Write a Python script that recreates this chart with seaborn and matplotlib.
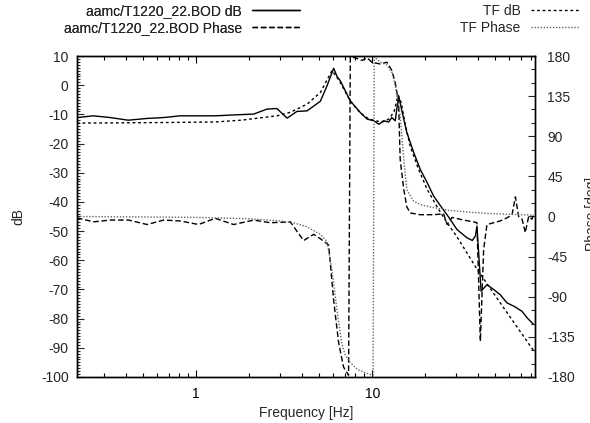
import numpy as np
import pandas as pd
import matplotlib
matplotlib.use("Agg")
import matplotlib.pyplot as plt
import seaborn as sns
from matplotlib.ticker import FixedLocator, MultipleLocator, LogLocator, NullFormatter

# ---------------- data ----------------
bod_db_f = [0.21, 0.26, 0.325, 0.41, 0.525, 0.65, 0.81, 1.03, 1.28, 1.63, 2.12, 2.52, 2.87,
            3.28, 3.73, 4.26, 5.07, 5.53, 6.03, 6.3, 6.58, 7.5, 8.55, 9.33, 10.2, 10.9, 11.6,
            12.4, 12.9, 13.5, 14.1, 14.8, 15.7, 17.2, 18.7, 20.5, 22.3, 24.5, 27.0, 30.3,
            34.5, 37.0, 38.5, 39.3, 41.5, 44.8, 48.9, 53.3, 58.2, 64.0, 70.9, 76.0, 82.5]
bod_db = [-11.1, -10.5, -11.1, -12.0, -11.4, -11.1, -10.5, -10.5, -10.5, -10.2, -9.9, -8.2, -8.0,
          -11.3, -9.0, -8.8, -5.5, -0.2, 5.8, 3.0, 1.5, -5.4, -9.4, -11.6, -12.2, -13.4, -12.2,
          -12.6, -11.1, -12.2, -3.6, -9.4, -16.2, -23.1, -28.8, -33.4, -38.0, -41.5, -45.0, -49.5,
          -52.3, -53.2, -51.7, -48.3, -70.6, -68.4, -70.0, -71.8, -74.6, -75.8, -77.5, -79.8, -82.0]

bod_ph_f = [0.21, 0.261, 0.325, 0.412, 0.525, 0.652, 0.811, 1.03, 1.28, 1.63, 2.12, 2.63, 3.42,
            4.07, 4.64, 5.07, 5.65, 6.03, 6.44, 6.87, 7.33, 7.5, 8.0, 8.73, 9.33, 9.96, 11.1,
            12.1, 12.9, 13.5, 14.1, 14.4, 15.1, 15.7, 16.4, 18.7, 22.3, 25.4, 26.6, 28.4, 33.0,
            37.6, 39.3, 41.1, 42.9, 44.8, 48.9, 53.3, 58.2, 62.2, 65.0, 67.8, 70.9, 74.0, 77.3,
            80.8, 82.5]
bod_ph = [-1.5, -6, -4, -4, -9, -4, -5, -9, -2, -9, -4, -7, -6,
          -27, -20, -25, -32, -94, -142, -169, -178, 179, 178, 175, 178, 173, 171,
          173, 164, 150, 128, 64, 30, 11, 4, 2, 2, 3, -9, -1, -4,
          -6, -7, -140, -37, -9, -7, -5, -1.5, 2, 22, 0, -3, -18, 0,
          -3, 3]

tf_db_f = [0.21, 0.65, 1.28, 1.8, 2.87, 3.42, 4.26, 5.07, 5.9, 6.5, 7.5, 8.55, 9.5, 10.5,
           11.5, 12.5, 13.3, 14.0, 14.6, 15.3, 16.4, 18.3, 20.5, 23.5, 26.5, 30.3, 39.3, 53.3, 82.5]
tf_db = [-13.0, -12.8, -12.6, -12.0, -10.5, -9.3, -6.5, -2.5, 5.0, 1.5, -5.5, -9.5, -11.5, -12.3,
         -12.5, -11.5, -9.0, -3.5, -6.0, -12.8, -20.8, -28.8, -35.7, -42.0, -47.0, -52.0, -63.0,
         -74.6, -91.0]

tf_ph_f = [0.21, 0.5, 1.0, 2.0, 3.0, 3.55, 4.2, 5.07, 5.53, 5.9, 6.3, 6.7, 7.0, 7.5, 8.3, 9.33,
           10.1, 10.25, 11.1, 12.1, 12.9, 13.5, 14.4, 15.1, 15.7, 17.2, 19.0, 22.3, 27.0, 34.5,
           45.0, 60.0, 82.5]
tf_ph = [0.0, -0.5, -1.0, -2.5, -5.0, -7.0, -11.0, -20.0, -28.0, -60.0, -105.0, -142.0, -155.0,
         -164.0, -172.0, -176.0, -178.0, 179.0, 173.0, 170.0, 162.0, 147.0, 113.0, 64.0, 30.0,
         17.0, 13.0, 10.0, 7.0, 5.0, 3.5, 2.5, 1.5]

labels = ["aamc/T1220_22.BOD dB", "aamc/T1220_22.BOD Phase", "TF dB", "TF Phase"]
db_ticks = list(range(-100, 11, 10))
ph_ticks = list(range(-180, 181, 45))
x_ticks = [1, 10]

# ---------------- style ----------------
sns.set_style("ticks")
plt.rcParams["font.family"] = ["Liberation Sans", "DejaVu Sans"]
plt.rcParams["font.size"] = 10

fig = plt.figure(figsize=(5.9, 4.23), dpi=100)
W, H = 590, 423
L, R, T, B = 77, 535, 56, 377
ax = fig.add_axes([L / W, 1 - B / H, (R - L) / W, (B - T) / H])
ax2 = ax.twinx()

d1 = pd.DataFrame({"f": bod_db_f, "v": bod_db})
d2 = pd.DataFrame({"f": bod_ph_f, "v": bod_ph})
d3 = pd.DataFrame({"f": tf_db_f, "v": tf_db})
d4 = pd.DataFrame({"f": tf_ph_f, "v": tf_ph})

sns.lineplot(data=d1, x="f", y="v", ax=ax, color="black", lw=1.0, sort=False,
             estimator=None, label=labels[0], legend=False)
sns.lineplot(data=d3, x="f", y="v", ax=ax, color="black", lw=1.0, sort=False,
             estimator=None, linestyle=(0, (2, 2)), label=labels[2], legend=False)
sns.lineplot(data=d2, x="f", y="v", ax=ax2, color="black", lw=1.0, sort=False,
             estimator=None, linestyle=(0, (4, 2)), label=labels[1], legend=False)
sns.lineplot(data=d4, x="f", y="v", ax=ax2, color="#666666", lw=1.0, sort=False,
             estimator=None, linestyle=(0, (1, 1.2)), label=labels[3], legend=False)

ax.set_xscale("log")
ax.set_xlim(0.21, 84)
ax.set_ylim(-100, 10)
ax2.set_ylim(-180, 180)

ax.xaxis.set_major_locator(FixedLocator(x_ticks))
ax.set_xticklabels([str(t) for t in x_ticks])
ax.xaxis.set_minor_locator(LogLocator(base=10, subs=np.arange(2, 10)))
ax.xaxis.set_minor_formatter(NullFormatter())
ax.yaxis.set_major_locator(FixedLocator(db_ticks))
ax.set_yticklabels([str(t) for t in db_ticks])
ax.yaxis.set_minor_locator(MultipleLocator(1))
ax2.yaxis.set_major_locator(FixedLocator(ph_ticks))
ax2.set_yticklabels([str(t) for t in ph_ticks])
ax2.yaxis.set_minor_locator(MultipleLocator(15))

ax.tick_params(axis="x", which="both", direction="in", top=True, bottom=True, pad=7,
               labelsize=10, colors="black", width=0.8)
ax.tick_params(axis="x", which="major", length=5)
ax.tick_params(axis="x", which="minor", length=3)
ax.tick_params(axis="y", which="both", direction="in", left=True, right=False, pad=6,
               labelsize=10, width=0.8)
ax.tick_params(axis="y", which="major", length=5)
ax.tick_params(axis="y", which="minor", length=2)
ax2.tick_params(axis="y", which="both", direction="in", right=True, pad=9,
                labelsize=10, width=0.8)
ax2.tick_params(axis="y", which="major", length=5)
ax2.tick_params(axis="y", which="minor", length=3)

for a in (ax, ax2):
    for s in a.spines.values():
        s.set_visible(True)
        s.set_linewidth(1.0)
        s.set_color("black")

ax.set_xlabel("Frequency [Hz]", fontsize=10, labelpad=4)
ax.set_ylabel("dB", fontsize=10)
ax.yaxis.set_label_coords(-0.112, 0.5)
ax2.set_ylabel("")
ax.grid(False)
ax2.grid(False)

# right axis label: in the reference it sits at the very edge, only partly visible
fig.text(585 / W, 1 - 214 / H, "Phase [deg]", rotation=90, ha="left", va="center", fontsize=10)

h1, _ = ax.get_legend_handles_labels()
h2, _ = ax2.get_legend_handles_labels()
hmap = {h.get_label(): h for h in h1 + h2}
leg1 = fig.legend([hmap[labels[0]], hmap[labels[1]]], labels[:2], loc="upper right",
                  bbox_to_anchor=(300 / W, 1 - 4 / H), markerfirst=False, frameon=False,
                  handlelength=3.45, handletextpad=0.75, labelspacing=0.2,
                  borderpad=0, borderaxespad=0, fontsize=10)
leg2 = fig.legend([hmap[labels[2]], hmap[labels[3]]], labels[2:], loc="upper right",
                  bbox_to_anchor=(579 / W, 1 - 4 / H), markerfirst=False, frameon=False,
                  handlelength=3.45, handletextpad=0.75, labelspacing=0.2,
                  borderpad=0, borderaxespad=0, fontsize=10)
fig.add_artist(leg1)

fig.savefig("out.png", dpi=100)
